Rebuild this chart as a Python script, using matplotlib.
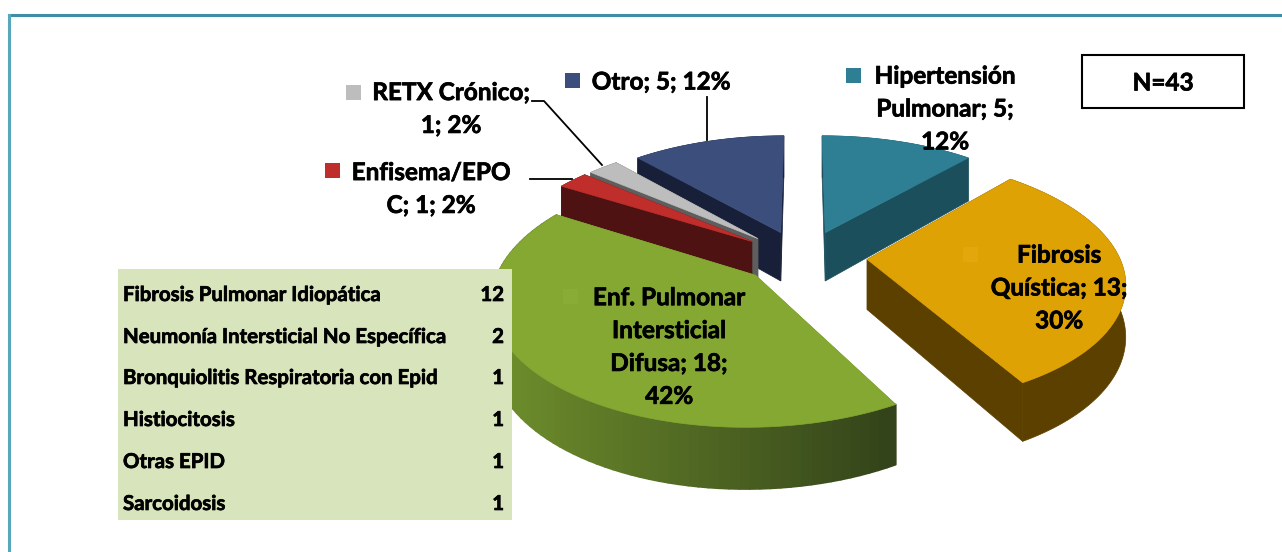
#!/usr/bin/env python3

import matplotlib
matplotlib.use("Agg")
import matplotlib.pyplot as plt
import matplotlib.patheffects as pe
from matplotlib.collections import PolyCollection
from matplotlib.patches import Polygon, Rectangle
import matplotlib.colors as mcolors
import numpy as np

# pie data, clockwise from 12 o'clock
categories = ["Hipertensión Pulmonar", "Fibrosis Quística", "Enf. Pulmonar Intersticial Difusa",
              "Enfisema/EPOC", "RETX Crónico", "Otro"]
values = [5, 13, 18, 1, 1, 5]
percents = [12, 30, 42, 2, 2, 12]
labels = ["Hipertensión\nPulmonar; 5;\n12%", "Fibrosis\nQuística; 13;\n30%",
          "Enf. Pulmonar\nIntersticial\nDifusa; 18;\n42%", "Enfisema/EPO\nC; 1; 2%",
          "RETX Crónico;\n1; 2%", "Otro; 5; 12%"]
top_colors = ["#2E7F93", "#DFA204", "#84A832", "#C02E2C", "#BDBDBD", "#3C4F7C"]
side_colors = ["#1C4F5C", "#5C4000", "#6F8F2C", "#4F1212", "#5E5E5E", "#181F38"]

# table on the left
epid_names = ["Fibrosis Pulmonar Idiopática", "Neumonía Intersticial No Específica",
              "Bronquiolitis Respiratoria con Epid", "Histiocitosis", "Otras EPID", "Sarcoidosis"]
epid_counts = [12, 2, 1, 1, 1, 1]

FONT = "Lato"
HEAVY = [pe.withStroke(linewidth=0.5, foreground="black")]

# projection of the pie plane to pixels, fitted by eye on the reference
CX, CY = 803.0, 256.5
A, B = 252.0, 120.0
PERSP = 0.165
EXPLODE_X = 0.255
EXPLODE_Y = 0.22
DEPTH = 50.0


def project(x, y, drop=0.0):
    s = 1.0 / (1.0 + PERSP * y)
    return np.column_stack([CX + A * x * s, CY - B * y * s + drop * s])


def slice_points(t0, t1, off, drop=0.0):
    # outer arc of the slice in plane coordinates, then projected
    t = np.linspace(t0, t1, 80)
    return project(np.sin(t) + off[0], np.cos(t) + off[1], drop)


fig = plt.figure(figsize=(12.82, 5.52), dpi=100)
ax = fig.add_axes([0, 0, 1, 1])
ax.set_xlim(0, 1282)
ax.set_ylim(552, 0)
ax.axis("off")

# frame, runs off the right and bottom of the picture
ax.plot([1282, 9], [14.5, 14.5], color="#3E8FA6", lw=2.2, zorder=1, solid_capstyle="projecting")
ax.plot([9, 9], [14.5, 552], color="#57A8BD", lw=2.2, zorder=1, solid_capstyle="projecting")

edges = 2 * np.pi * np.concatenate([[0], np.cumsum(values)]) / sum(values)

# back to front
draw_order = [5, 0, 4, 3, 1, 2]
for n, i in enumerate(draw_order):
    z = 2 + n
    t0, t1 = edges[i], edges[i + 1]
    mid = (t0 + t1) / 2
    off = (EXPLODE_X * np.sin(mid), EXPLODE_Y * np.cos(mid))
    top = slice_points(t0, t1, off)
    bottom = slice_points(t0, t1, off, DEPTH)
    apex = project(np.array([off[0]]), np.array([off[1]]))
    apex_b = project(np.array([off[0]]), np.array([off[1]]), DEPTH)

    # cut faces
    for a, b in [(top[0], bottom[0]), (top[-1], bottom[-1])]:
        ax.add_patch(Polygon([apex[0], a, b, apex_b[0]], fc=side_colors[i], ec=side_colors[i],
                             lw=0.5, zorder=z))

    # outer wall
    if categories[i].startswith("Enf. Pulmonar"):
        # this wall fades from left to right
        quads = [[top[k], top[k + 1], bottom[k + 1], bottom[k]] for k in range(len(top) - 1)]
        cmap = mcolors.LinearSegmentedColormap.from_list("wall", [side_colors[i], "#33431A"])
        pos = (top[:-1, 0] - top[:, 0].min()) / (top[:, 0].max() - top[:, 0].min())
        cols = cmap(pos)
        ax.add_collection(PolyCollection(quads, facecolors=cols, edgecolors=cols, linewidths=1.2, zorder=z))
    else:
        ax.add_patch(Polygon(np.vstack([top, bottom[::-1]]), fc=side_colors[i], ec=side_colors[i],
                             lw=0.5, zorder=z))

    ax.add_patch(Polygon(np.vstack([apex, top]), fc=top_colors[i], ec=top_colors[i], lw=0.5, zorder=z))

# leader lines
ax.plot([707, 707], [97, 140], color="black", lw=1.3, zorder=10)
ax.plot([532, 544, 602], [101, 101, 165], color="black", lw=1.3, zorder=10)
ax.plot([530, 572], [179, 179], color="black", lw=1.3, zorder=10)

# data labels and their colour keys
label_xy = [(945, 109), (1059, 288), (669, 347), (431, 189), (451, 109), (661, 82)]
key_xy = [(846, 68), (963, 247), (563, 289), (325, 163), (346, 85), (565, 73)]
key_colors = ["#2E7F93", "#E3A60C", "#88AC36", "#C02E2C", "#BDBDBD", "#3C4F7C"]
for i in range(len(labels)):
    ax.text(label_xy[i][0], label_xy[i][1], labels[i], ha="center", va="center", family=FONT,
            weight="bold", fontsize=17.5, linespacing=1.52, color="black", zorder=12,
            path_effects=HEAVY)
    ax.add_patch(Rectangle(key_xy[i], 15, 15, fc=key_colors[i], ec="none", zorder=11))

# table
ax.add_patch(Rectangle((118, 269), 394, 251, fc="#D8E4BC", ec="none", zorder=20))
row_y = [295, 337, 378, 420, 462, 504]
for name, count, y in zip(epid_names, epid_counts, row_y):
    ax.text(123, y, name, ha="left", va="center", family=FONT, weight="bold", fontsize=14.7, zorder=21,
            path_effects=HEAVY)
    ax.text(504, y, str(count), ha="right", va="center", family=FONT, weight="bold", fontsize=14.7, zorder=21,
            path_effects=HEAVY)

# N box
ax.add_patch(Rectangle((1082, 55), 162, 53, fc="white", ec="black", lw=1.5, zorder=20))
ax.text(1163, 83, "N=43", ha="center", va="center", family=FONT, weight="bold", fontsize=17.5, zorder=21,
        path_effects=HEAVY)

fig.savefig("out.png", dpi=100)
